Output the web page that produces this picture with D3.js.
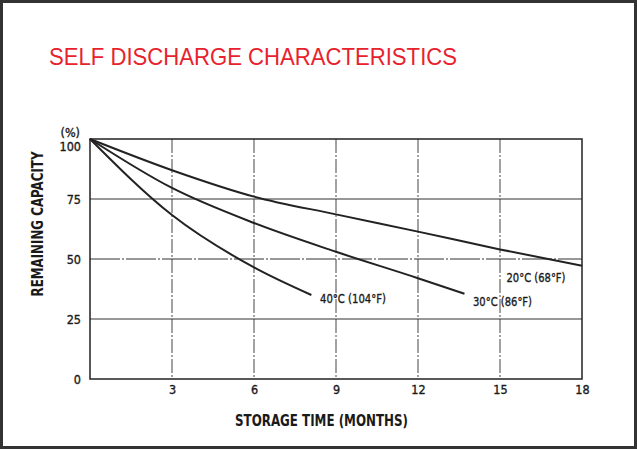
<!DOCTYPE html>
<html><head><meta charset="utf-8">
<script src="https://cdn.jsdelivr.net/npm/d3@7"></script>
<style>
html,body{margin:0;padding:0;background:#fff;}
svg{display:block;}
text{font-family:"DejaVu Sans Condensed","Liberation Sans",Arial,sans-serif;fill:#1a1a1a;}
</style></head>
<body>
<script>
const title = "SELF DISCHARGE CHARACTERISTICS";
const xTicks = [3, 6, 9, 12, 15, 18];
const yTicks = [0, 25, 50, 75, 100];
const seriesNames = ["20°C (68°F)", "30°C (86°F)", "40°C (104°F)"];
const months20 = [0, 3, 6, 9, 12, 15, 18];
const values20 = [100, 87, 76, 68.6, 61.4, 54, 47.2];
const months30 = [0, 3, 6, 9, 12, 13.7];
const values30 = [100, 79.6, 65, 53, 42, 35.5];
const months40 = [0, 3, 6, 8.1];
const values40 = [100, 68.3, 46.5, 35];

const W = 637, H = 450;
const svg = d3.select("body").append("svg").attr("width", W).attr("height", H);
svg.append("rect").attr("x",1.5).attr("y",1.5).attr("width",W-3).attr("height",H-4)
  .attr("fill","#fff").attr("stroke","#333").attr("stroke-width",3);

svg.append("text").attr("x",49).attr("y",65).text(title)
  .attr("textLength",408).attr("lengthAdjust","spacingAndGlyphs")
  .style("font-family","'Liberation Sans',Arial,sans-serif").style("font-size","24px")
  .style("fill","#e8222d");

const x = d3.scaleLinear().domain([0,18]).range([90,582]);
const y = d3.scaleLinear().domain([0,100]).range([379,139]);

const g = svg.append("g");
// vertical grid (dash-dot)
g.selectAll(".vg").data(xTicks.filter(d=>d<18)).enter().append("line")
  .attr("x1",d=>x(d)).attr("x2",d=>x(d)).attr("y1",y(100)).attr("y2",y(0))
  .attr("stroke","#444").attr("stroke-width",1).attr("stroke-dasharray","14,2,2,2");
// horizontal grid
g.selectAll(".hg").data(yTicks.filter(d=>d>0&&d<100)).enter().append("line")
  .attr("x1",x(0)).attr("x2",x(18)).attr("y1",d=>y(d)).attr("y2",d=>y(d))
  .attr("stroke","#333").attr("stroke-width",1.2)
  .attr("stroke-dasharray",d=>d===50?"30,2,2,2":null);
// frame
g.append("rect").attr("x",x(0)).attr("y",y(100)).attr("width",x(18)-x(0)).attr("height",y(0)-y(100))
  .attr("fill","none").attr("stroke","#222").attr("stroke-width",1.5);

const tickStyle = sel => sel.style("font-size","12.5px").style("fill","#1a1a1a")
  .style("stroke","#1a1a1a").style("stroke-width","0.35px");

// axes tick labels
const xAxis = d3.axisBottom(x).tickValues(xTicks).tickSize(0).tickPadding(6);
const ax = svg.append("g").attr("transform",`translate(0,${y(0)})`).call(xAxis);
ax.select(".domain").remove();
ax.selectAll("text").call(tickStyle).style("font-family","'DejaVu Sans Condensed',sans-serif");
const yAxis = d3.axisLeft(y).tickValues(yTicks).tickSize(0).tickPadding(9);
const ay = svg.append("g").attr("transform",`translate(${x(0)},0)`).call(yAxis);
ay.select(".domain").remove();
ay.selectAll("text").call(tickStyle).style("font-family","'DejaVu Sans Condensed',sans-serif")
  .attr("dy", d => d===100 ? "0.95em" : "0.32em");

svg.append("text").attr("x",80).attr("y",137).attr("text-anchor","end").text("(%)")
  .call(tickStyle);

svg.append("text").attr("x",235).attr("y",425.5)
  .attr("textLength",173).attr("lengthAdjust","spacingAndGlyphs")
  .text("STORAGE TIME (MONTHS)").style("font-size","16px").style("font-weight","bold");
svg.append("text").attr("transform","translate(42.5,224) rotate(-90)").attr("text-anchor","middle")
  .attr("textLength",145).attr("lengthAdjust","spacingAndGlyphs")
  .text("REMAINING CAPACITY").style("font-size","16.5px").style("font-weight","bold");

// curves
const line = d3.line().x(d=>x(d[0])).y(d=>y(d[1])).curve(d3.curveMonotoneX);
const series = [
  d3.zip(months20, values20),
  d3.zip(months30, values30),
  d3.zip(months40, values40)
];
svg.selectAll(".curve").data(series).enter().append("path")
  .attr("d",line).attr("fill","none").attr("stroke","#222").attr("stroke-width",2);

// labels
const labelPos = [[506.5,281.5,59],[473,306,59],[320,302.5,66]];
seriesNames.forEach((n,i)=>{
  svg.append("text").attr("x",labelPos[i][0]).attr("y",labelPos[i][1])
    .attr("textLength",labelPos[i][2]).attr("lengthAdjust","spacingAndGlyphs")
    .call(tickStyle).style("font-size","13px").text(n);
});
</script>
</body></html>
